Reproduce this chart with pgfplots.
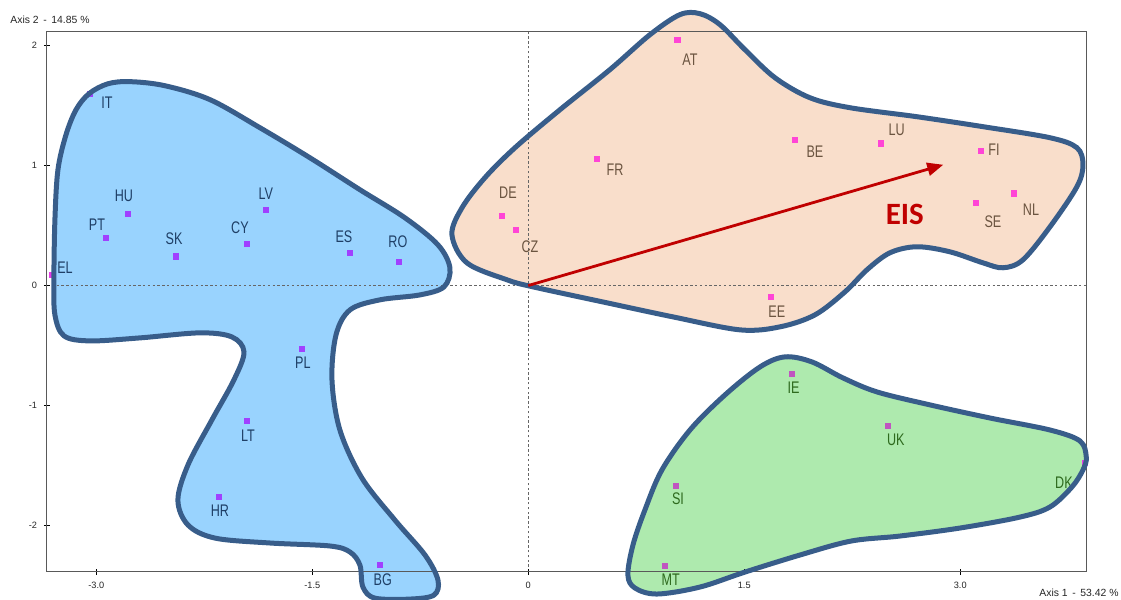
\documentclass[border=0pt]{standalone}
\usepackage{pgfplots}
\pgfplotsset{compat=1.18}
\usepackage{pgfplotstable}
\usepackage{fontspec}
\setmainfont{Liberation Sans}
\newfontfamily\narrowfont{Liberation Sans}[FakeStretch=0.75]
\newfontfamily\eisfont{Carlito}
\usetikzlibrary{arrows.meta}

\definecolor{outline}{HTML}{385D8A}
\definecolor{blobblue}{HTML}{99D3FE}
\definecolor{blobpeach}{HTML}{F9DECB}
\definecolor{blobgreen}{HTML}{AEEAAE}
\definecolor{lblblue}{HTML}{1F3F66}
\definecolor{lblbrown}{HTML}{6B5440}
\definecolor{lblgreen}{HTML}{2E6A1E}
\definecolor{ptviolet}{HTML}{A040FF}
\definecolor{ptpink}{HTML}{FF45D6}
\definecolor{ptorchid}{HTML}{C055C0}
\definecolor{ptmagenta}{HTML}{E83BE8}
\definecolor{eisred}{HTML}{C00000}

% country scores (x,y) and label positions (lx,ly)
\pgfplotstableread{
x y lx ly lab
-2.933 0.395 -2.995 0.506 PT
-2.778 0.597 -2.808 0.748 HU
-2.449 0.242 -2.460 0.389 SK
-1.953 0.348 -2.002 0.481 CY
-1.822 0.629 -1.822 0.764 LV
-1.238 0.273 -1.280 0.406 ES
-0.898 0.198 -0.905 0.364 RO
-1.572 -0.528 -1.565 -0.644 PL
-1.953 -1.128 -1.947 -1.253 LT
-2.148 -1.760 -2.141 -1.878 HR
-1.030 -2.328 -1.010 -2.453 BG
}\bluepts
\pgfplotstableread{
lx ly lab
-3.217 0.148 EL
-2.926 1.523 IT
}\bluelabels
\pgfplotstableread{
x y lx ly lab
1.035 2.048 1.123 1.881 AT
0.475 1.053 0.602 0.964 FR
-0.183 0.583 -0.141 0.773 DE
-0.088 0.464 0.012 0.323 CZ
1.852 1.214 1.991 1.114 BE
2.447 1.183 2.558 1.298 LU
3.142 1.120 3.234 1.131 FI
3.109 0.689 3.227 0.531 SE
3.373 0.767 3.491 0.631 NL
1.684 -0.094 1.726 -0.219 EE
}\peachpts
\pgfplotstableread{
x y lx ly lab
1.833 -0.736 1.843 -0.853 IE
2.500 -1.167 2.553 -1.286 UK
1.024 -1.669 1.040 -1.778 SI
0.949 -2.336 0.990 -2.453 MT
}\greenpts
\pgfplotstableread{
lx ly lab
3.720 -1.644 DK
}\greenlabels

% cluster contours
\def\bluecontour{
(-3.294,0.048) (-3.287,0.548) (-3.266,0.964) (-3.210,1.256) (-3.140,1.465)
(-3.050,1.598) (-2.920,1.680) (-2.766,1.698) (-2.523,1.664) (-2.210,1.548) (-1.863,1.314)
(-1.516,1.064) (-1.169,0.798) (-0.856,0.564) (-0.627,0.339) (-0.544,0.148)
(-0.585,-0.011) (-0.752,-0.078) (-1.030,-0.119) (-1.238,-0.203) (-1.335,-0.411)
(-1.363,-0.786) (-1.308,-1.203) (-1.155,-1.603) (-0.926,-1.953) (-0.717,-2.244)
(-0.627,-2.453) (-0.655,-2.578) (-0.822,-2.611) (-1.065,-2.603) (-1.148,-2.511)
(-1.169,-2.328) (-1.238,-2.219) (-1.377,-2.169) (-1.794,-2.144) (-2.176,-2.103)
(-2.363,-1.994) (-2.433,-1.786) (-2.363,-1.494) (-2.197,-1.119) (-2.044,-0.786)
(-1.974,-0.553) (-2.058,-0.428) (-2.280,-0.394) (-2.697,-0.436) (-3.044,-0.461)
(-3.224,-0.419) (-3.287,-0.244)}
\def\peachcontour{
(-0.530,0.423) (-0.460,0.648) (-0.301,0.898) (-0.092,1.148) (0.220,1.464)
(0.567,1.798) (0.845,2.089) (1.053,2.256) (1.192,2.264) (1.331,2.173)
(1.505,1.964) (1.713,1.731) (1.956,1.564) (2.234,1.481) (2.699,1.406)
(3.158,1.323) (3.623,1.231) (3.810,1.148) (3.852,1.006) (3.810,0.823)
(3.623,0.489) (3.435,0.214) (3.297,0.148) (3.158,0.189) (2.928,0.281)
(2.699,0.323) (2.512,0.273) (2.352,0.131) (2.199,-0.053) (1.991,-0.244)
(1.748,-0.344) (1.470,-0.369) (1.005,-0.261) (0.547,-0.144) (0.033,-0.011)
(-0.148,0.048) (-0.426,0.189)}
\def\greencontour{
(0.692,-2.411) (0.727,-2.161) (0.810,-1.869) (0.928,-1.536) (1.123,-1.203)
(1.366,-0.911) (1.609,-0.678) (1.783,-0.594) (1.970,-0.636) (2.185,-0.769)
(2.422,-0.886) (2.790,-0.994) (3.206,-1.103) (3.623,-1.203) (3.831,-1.294)
(3.875,-1.428) (3.852,-1.536) (3.775,-1.678) (3.623,-1.844) (3.415,-1.928)
(3.000,-2.019) (2.581,-2.086) (2.241,-2.128) (1.887,-2.244) (1.505,-2.386)
(1.192,-2.511) (0.894,-2.569) (0.741,-2.519)}

\begin{document}
\begin{tikzpicture}
\begin{axis}[
  set layers, axis on top,
  scale only axis, width=520pt, height=270pt,
  xmin=-3.342, xmax=3.880, ymin=-2.383, ymax=2.114,
  clip=false,
  axis line style={draw=black!65, line width=0.5pt},
  xtick={-3,-1.5,0,1.5,3}, xticklabels={-3.0,-1.5,0,1.5,3.0},
  ytick={-2,-1,0,1,2}, yticklabels={-2,-1,0,1,2},
  xtick pos=left, ytick pos=left,
  tick align=center, major tick length=3pt,
  tick style={black, line width=0.5pt},
  tick label style={font=\fontsize{4.6}{5}\selectfont, text=black!85},
  every node near coord/.style={anchor=center, font=\narrowfont\fontsize{8.4}{9}\selectfont},
]
% cluster areas
\addplot[fill=blobblue, draw=none, smooth cycle, tension=0.55] coordinates \bluecontour;
\addplot[fill=blobpeach, draw=none, smooth cycle, tension=0.55] coordinates \peachcontour;
\addplot[fill=blobgreen, draw=none, smooth cycle, tension=0.55] coordinates \greencontour;

% zero reference lines
\addplot[black!60, line width=0.4pt, dash pattern=on 1.2pt off 1.2pt] coordinates {(-3.342,0) (3.880,0)};
\addplot[black!60, line width=0.4pt, dash pattern=on 1.2pt off 1.2pt] coordinates {(0,-2.383) (0,2.114)};

% points lying under the outlines (IT, DK)
\addplot[only marks, mark=square*, mark size=1.3pt, color=ptviolet] coordinates {(-3.045,1.598)};
\addplot[only marks, mark=square*, mark size=1.3pt, color=ptmagenta] coordinates {(3.866,-1.480)};

% outlines
\addplot[on layer=axis foreground, draw=outline, line width=2.5pt, smooth cycle, tension=0.55] coordinates \bluecontour;
\addplot[on layer=axis foreground, draw=outline, line width=2.5pt, smooth cycle, tension=0.55] coordinates \peachcontour;
\addplot[on layer=axis foreground, draw=outline, line width=2.5pt, smooth cycle, tension=0.55] coordinates \greencontour;

% country points
\addplot[on layer=axis foreground, only marks, mark=square*, mark size=1.3pt, color=ptviolet] table[x=x, y=y] {\bluepts};
\addplot[on layer=axis foreground, only marks, mark=square*, mark size=1.3pt, color=ptmagenta] coordinates {(-3.310,0.089)};
\addplot[on layer=axis foreground, only marks, mark=square*, mark size=1.3pt, color=ptpink] table[x=x, y=y] {\peachpts};
\addplot[on layer=axis foreground, only marks, mark=square*, mark size=1.3pt, color=ptorchid] table[x=x, y=y] {\greenpts};

% country labels
\addplot[on layer=axis foreground, draw=none, nodes near coords, point meta=explicit symbolic,
  every node near coord/.append style={text=lblblue}] table[x=lx, y=ly, meta=lab] {\bluepts};
\addplot[on layer=axis foreground, draw=none, nodes near coords, point meta=explicit symbolic,
  every node near coord/.append style={text=lblblue}] table[x=lx, y=ly, meta=lab] {\bluelabels};
\addplot[on layer=axis foreground, draw=none, nodes near coords, point meta=explicit symbolic,
  every node near coord/.append style={text=lblbrown}] table[x=lx, y=ly, meta=lab] {\peachpts};
\addplot[on layer=axis foreground, draw=none, nodes near coords, point meta=explicit symbolic,
  every node near coord/.append style={text=lblgreen}] table[x=lx, y=ly, meta=lab] {\greenpts};
\addplot[on layer=axis foreground, draw=none, nodes near coords, point meta=explicit symbolic,
  every node near coord/.append style={text=lblgreen}] table[x=lx, y=ly, meta=lab] {\greenlabels};

% EIS direction
\addplot[on layer=axis foreground, eisred, line width=1.4pt, -{Triangle[length=8pt, width=6.5pt]}] coordinates {(0,0) (2.882,1.006)};
\node[text=eisred, font=\eisfont\bfseries\fontsize{15.5}{16}\selectfont] at (axis cs:2.615,0.589) {EIS};

% axis captions
\node[anchor=west, inner sep=0pt, font=\fontsize{5.2}{6}\selectfont, text=black!85, xshift=-18.5pt, yshift=6pt] at (rel axis cs:0,1) {Axis 2\, -\, 14.85 \%};
\node[anchor=east, inner sep=0pt, font=\fontsize{5.2}{6}\selectfont, text=black!85, xshift=16pt, yshift=-10.7pt] at (rel axis cs:1,0) {Axis 1\, -\, 53.42 \%};
\end{axis}
\pgfresetboundingbox
\path[use as bounding box] (-23.5pt,-14.15pt) rectangle (537pt,285.85pt);
\end{tikzpicture}
\end{document}
